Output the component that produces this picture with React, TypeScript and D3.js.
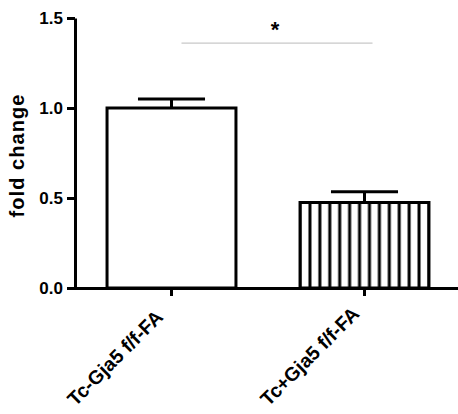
import React, { useEffect, useRef } from "react";
import * as d3 from "d3";

// chart values
const groups = ["Tc-Gja5 f/f-FA", "Tc+Gja5 f/f-FA"];
const means = [1.0, 0.475];
const errors = [0.05, 0.06];
const yTicks = [0, 0.5, 1.0, 1.5];
const sigLabel = "*";

const App = () => {
  const svgRef = useRef<SVGSVGElement>(null);

  useEffect(() => {
    const svg = d3.select(svgRef.current);
    svg.selectAll("*").remove();

    const font = "'Liberation Sans', Arial, sans-serif";

    const x = d3.scaleBand<string>()
      .domain(groups)
      .range([75, 461])
      .paddingInner(0.332)
      .paddingOuter(0.166);

    const y = d3.scaleLinear().domain([0, 1.5]).range([288, 18]);

    // vertical stripes pattern for the second bar
    const stripeW = x.bandwidth() / 13;
    const defs = svg.append("defs");
    const pat = defs.append("pattern")
      .attr("id", "vstripes")
      .attr("patternUnits", "userSpaceOnUse")
      .attr("x", x(groups[1])! - stripeW / 2)
      .attr("y", 0)
      .attr("width", stripeW)
      .attr("height", 10);
    pat.append("rect").attr("width", stripeW).attr("height", 10).attr("fill", "white");
    pat.append("line")
      .attr("x1", stripeW / 2).attr("x2", stripeW / 2)
      .attr("y1", 0).attr("y2", 10)
      .attr("stroke", "black")
      .attr("stroke-width", 3);

    // bars
    svg.append("g")
      .selectAll("rect")
      .data(groups)
      .join("rect")
      .attr("x", d => x(d)!)
      .attr("y", (d, i) => y(means[i]))
      .attr("width", x.bandwidth())
      .attr("height", (d, i) => y(0) - y(means[i]))
      .attr("fill", (d, i) => (i === 1 ? "url(#vstripes)" : "white"))
      .attr("stroke", "black")
      .attr("stroke-width", 3);

    // error bars (upper only)
    const eb = svg.append("g").attr("stroke", "black").attr("stroke-width", 3);
    groups.forEach((g, i) => {
      const cx = x(g)! + x.bandwidth() / 2;
      const capW = x.bandwidth() * 0.26;
      eb.append("line")
        .attr("x1", cx).attr("x2", cx)
        .attr("y1", y(means[i])).attr("y2", y(means[i] + errors[i]));
      eb.append("line")
        .attr("x1", cx - capW).attr("x2", cx + capW)
        .attr("y1", y(means[i] + errors[i])).attr("y2", y(means[i] + errors[i]));
    });

    // y axis
    const yAxis = d3.axisLeft(y)
      .tickValues(yTicks)
      .tickFormat(d3.format(".1f"))
      .tickSize(8)
      .tickSizeOuter(0)
      .tickPadding(4);
    const gy = svg.append("g")
      .attr("transform", "translate(75,0)")
      .call(yAxis);
    gy.select(".domain").attr("stroke-width", 3);
    gy.selectAll(".tick line").attr("stroke-width", 3);
    gy.selectAll(".tick text")
      .attr("font-family", font)
      .attr("font-weight", "bold")
      .attr("font-size", 17)
      .attr("fill", "black");

    // x axis
    const xAxis = d3.axisBottom(x).tickSize(8).tickSizeOuter(0);
    const gx = svg.append("g")
      .attr("transform", `translate(0,${y(0)})`)
      .call(xAxis);
    gx.select(".domain").attr("stroke-width", 3).attr("d", `M68,0.5H458`);
    gx.selectAll(".tick line").attr("stroke-width", 3);
    gx.selectAll(".tick text")
      .attr("font-family", font)
      .attr("font-weight", "bold")
      .attr("font-size", 19.5)
      .attr("fill", "black")
      .attr("text-anchor", "start")
      .attr("x", 0)
      .attr("y", 0)
      .attr("dy", 0)
      .attr("transform", "translate(-96,119) rotate(-45)");

    // y label
    svg.append("text")
      .attr("transform", `translate(24,156) rotate(-90)`)
      .attr("text-anchor", "middle")
      .attr("font-family", font)
      .attr("font-weight", "bold")
      .attr("font-size", 20)
      .attr("textLength", 123)
      .attr("lengthAdjust", "spacing")
      .attr("fill", "black")
      .text("fold change");

    // significance bracket
    const x1 = x(groups[0])! + x.bandwidth() / 2 + 10;
    const x2 = x(groups[1])! + x.bandwidth() / 2 + 8;
    svg.append("line")
      .attr("x1", x1).attr("x2", x2)
      .attr("y1", y(1.36)).attr("y2", y(1.36))
      .attr("stroke", "#c8c8c8")
      .attr("stroke-width", 1.2);
    svg.append("text")
      .attr("x", (x1 + x2) / 2 - 2)
      .attr("y", y(1.36) - 6)
      .attr("text-anchor", "middle")
      .attr("font-family", font)
      .attr("font-weight", "bold")
      .attr("font-size", 22)
      .attr("fill", "black")
      .text(sigLabel);
  }, []);

  return (
    <svg
      ref={svgRef}
      width={458}
      height={414}
      style={{ position: "absolute", left: 0, top: 0, background: "white" }}
    />
  );
};

export default App;
